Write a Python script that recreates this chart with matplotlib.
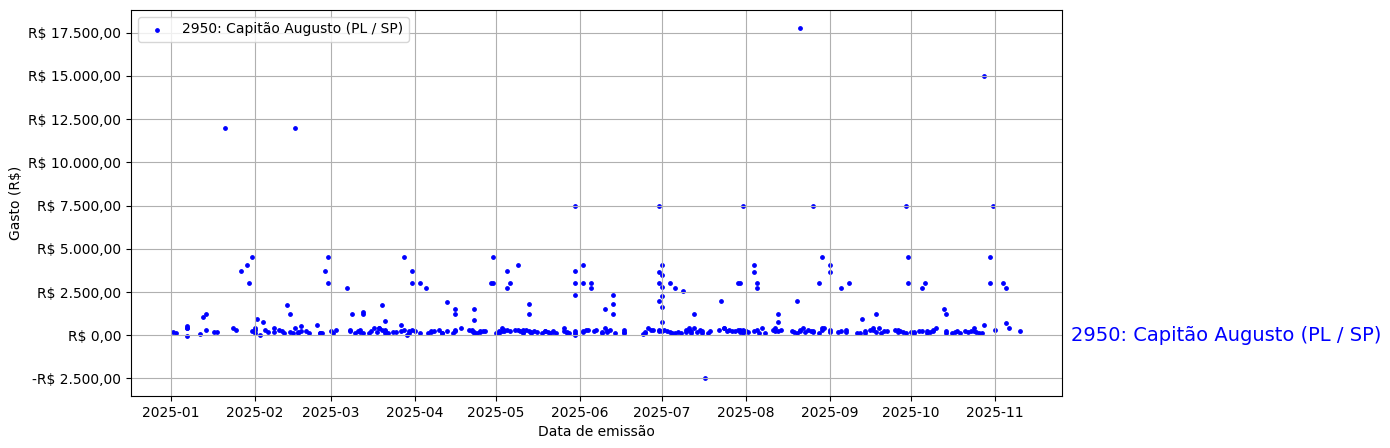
import matplotlib
matplotlib.use('Agg')
import matplotlib.pyplot as plt
import matplotlib.dates as mdates
import matplotlib.ticker as mticker
import matplotlib.transforms as mtransforms
import pandas as pd

deputado = '2950: Capitão Augusto (PL / SP)'

# (dia do mes, valor em R$), um bloco por mes de 2025
gastos_jan = [(2, 190), (3, 150), (7, 540), (7, 440), (7, 390), (7, -40), (12, 80), (13, 1050),
              (14, 1200), (14, 300), (17, 190), (18, 190), (21, 12000), (24, 420), (25, 300),
              (27, 3700), (29, 4050), (30, 3000), (31, 4500), (31, 250)]
gastos_fev = [(1, 330), (1, 440), (1, 150), (2, 950), (3, 40), (4, 750), (5, 300), (6, 160),
              (8, 400), (8, 190), (10, 330), (11, 250), (12, 100), (13, 1740), (14, 190),
              (14, 1220), (15, 135), (16, 390), (16, 12000), (17, 190), (17, 100), (18, 250),
              (18, 560), (20, 230), (21, 100), (24, 620), (25, 135), (25, 150), (26, 150),
              (27, 3700), (28, 4500), (28, 3000)]
gastos_mar = [(1, 230), (2, 135), (3, 330), (7, 2750), (8, 250), (8, 300), (9, 1200), (10, 150),
              (11, 250), (12, 300), (12, 190), (13, 1350), (13, 1220), (13, 100), (15, 100),
              (16, 250), (17, 440), (18, 190), (19, 390), (19, 440), (20, 1720), (20, 330),
              (21, 250), (21, 100), (21, 300), (21, 810), (22, 100), (24, 210), (25, 210),
              (27, 620), (27, 250), (28, 4500), (28, 300), (29, 0), (30, 135), (30, 250),
              (31, 3700), (31, 3000), (31, 300)]
gastos_abr = [(1, 250), (3, 100), (3, 3000), (5, 2750), (6, 135), (7, 250), (7, 200), (8, 250),
              (10, 300), (11, 135), (11, 100), (13, 1950), (13, 230), (15, 150), (16, 250),
              (16, 1220), (16, 1540), (16, 330), (18, 440), (21, 300), (22, 300), (22, 250),
              (23, 1490), (23, 870), (23, 190), (23, 100), (24, 135), (25, 190), (25, 250),
              (26, 250), (27, 230), (29, 3000), (30, 4500), (30, 3000)]
gastos_mai = [(1, 135), (2, 250), (2, 100), (3, 440), (3, 250), (4, 300), (4, 250), (5, 3700),
              (5, 2750), (5, 300), (6, 250), (6, 3000), (8, 330), (9, 4050), (9, 300), (10, 250),
              (11, 190), (11, 100), (11, 300), (12, 300), (13, 1780), (13, 1220), (13, 250),
              (14, 190), (14, 100), (15, 250), (16, 190), (18, 135), (19, 250), (19, 220),
              (20, 190), (21, 100), (22, 250), (22, 190), (23, 135), (26, 440), (26, 250),
              (27, 190), (27, 135), (28, 135), (30, 7500), (30, 3700), (30, 3000), (30, 2300),
              (30, 250), (30, 100), (30, 0)]
gastos_jun = [(2, 190), (2, 4050), (2, 3000), (2, 230), (3, 300), (4, 300), (5, 3000), (5, 2750),
              (6, 250), (7, 300), (9, 135), (9, 160), (10, 440), (10, 1490), (11, 250), (11, 190),
              (12, 300), (13, 2300), (13, 1830), (13, 1220), (14, 135), (17, 330), (17, 190),
              (17, 100), (24, 50), (25, 135), (25, 190), (26, 440), (27, 330), (28, 330),
              (30, 330), (30, 3660), (30, 3000), (30, 1970), (30, 230), (30, 7500)]
gastos_jul = [(1, 4050), (1, 3470), (1, 2780), (1, 2260), (1, 1620), (1, 750), (1, 250), (2, 300),
              (3, 250), (4, 3000), (4, 190), (5, 135), (6, 100), (6, 2750), (7, 190), (8, 135),
              (9, 2560), (10, 190), (10, 300), (11, 390), (11, 330), (12, 250), (12, 135),
              (13, 1220), (13, 440), (14, 190), (15, 300), (16, 250), (16, 100), (17, -2500),
              (18, 100), (19, 250), (22, 330), (23, 2000), (24, 440), (24, 390), (25, 250),
              (26, 300), (27, 250), (28, 250), (29, 300), (29, 3000), (30, 3000), (30, 190),
              (30, 330), (31, 7500), (31, 300), (31, 135)]
gastos_ago = [(1, 250), (2, 190), (4, 4050), (4, 3660), (4, 250), (5, 3000), (5, 2760), (5, 330),
              (6, 100), (7, 440), (8, 135), (11, 300), (12, 250), (12, 390), (13, 1220), (13, 750),
              (13, 250), (14, 330), (18, 250), (19, 190), (20, 100), (20, 2000), (21, 250),
              (21, 17800), (21, 330), (22, 390), (23, 190), (24, 300), (25, 250), (26, 250),
              (26, 7500), (26, 200), (28, 3000), (28, 135), (29, 4500), (29, 300), (29, 390),
              (30, 440)]
gastos_set = [(1, 4050), (1, 3660), (1, 330), (1, 190), (4, 190), (5, 2760), (5, 250), (7, 330),
              (7, 190), (8, 3000), (11, 100), (12, 100), (13, 910), (14, 135), (14, 250), (16, 300),
              (17, 390), (17, 330), (18, 1220), (18, 190), (19, 440), (20, 135), (21, 250),
              (22, 250), (25, 300), (26, 330), (26, 190), (27, 250), (28, 190), (29, 7500),
              (29, 100), (30, 4500), (30, 3000)]
gastos_out = [(1, 190), (2, 135), (2, 190), (4, 250), (5, 2750), (5, 250), (6, 3000), (7, 135),
              (7, 250), (8, 190), (9, 250), (9, 330), (10, 390), (13, 1540), (14, 1220), (14, 250),
              (14, 100), (16, 100), (17, 190), (18, 250), (19, 135), (21, 250), (22, 190),
              (23, 250), (24, 390), (24, 250), (25, 190), (26, 135), (27, 135), (28, 620),
              (28, 15000), (30, 4500), (30, 3000), (31, 7500)]
gastos_nov = [(1, 330), (4, 3000), (5, 2750), (5, 680), (6, 440), (10, 230)]

meses = [gastos_jan, gastos_fev, gastos_mar, gastos_abr, gastos_mai, gastos_jun,
         gastos_jul, gastos_ago, gastos_set, gastos_out, gastos_nov]


def brl(v, pos):
    s = '{:,.2f}'.format(abs(v)).replace(',', 'X').replace('.', ',').replace('X', '.')
    return ('-' if v < 0 else '') + 'R$ ' + s


if __name__ == "__main__":
    rows = []
    for m, lista in enumerate(meses, start=1):
        for dia, valor in lista:
            rows.append({'data': pd.Timestamp(2025, m, dia), 'valor': valor})
    df = pd.DataFrame(rows)

    fig, ax = plt.subplots(figsize=(13.9, 4.48), dpi=100)
    fig.subplots_adjust(left=0.0942, right=0.764, bottom=0.1161, top=0.9777)

    ax.scatter(df['data'], df['valor'], s=6, color='blue', label=deputado)

    ax.xaxis.set_major_locator(mdates.MonthLocator())
    ax.xaxis.set_major_formatter(mdates.DateFormatter('%Y-%m'))
    ax.yaxis.set_major_locator(mticker.MultipleLocator(2500))
    ax.yaxis.set_major_formatter(mticker.FuncFormatter(brl))

    ax.set_xlabel('Data de emissão')
    ax.set_ylabel('Gasto (R$)')
    ax.grid(True)
    ax.legend(loc='upper left')

    # nome do deputado na altura do zero, logo a direita do eixo
    trans = mtransforms.blended_transform_factory(ax.transAxes, ax.transData)
    ax.text(1.01, 0, deputado, transform=trans, color='blue', fontsize=14, va='center')

    fig.savefig('out.png', dpi=100)
